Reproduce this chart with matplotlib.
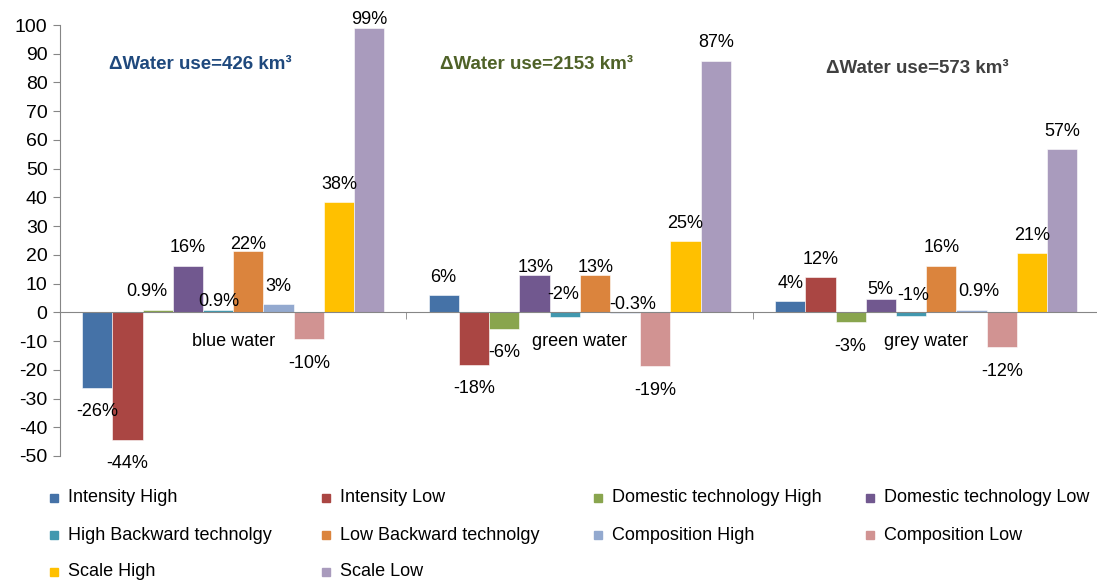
import numpy as np
import matplotlib.pyplot as plt
from matplotlib.patches import Rectangle

plt.rcParams['font.family'] = ['Liberation Sans', 'DejaVu Sans']
plt.rcParams['axes.unicode_minus'] = False

groups = ['blue water', 'green water', 'grey water']
series = ['Intensity High', 'Intensity Low', 'Domestic technology High', 'Domestic technology Low',
          'High Backward technolgy', 'Low Backward technolgy', 'Composition High', 'Composition Low',
          'Scale High', 'Scale Low']
colors = ['#4572A7', '#AA4643', '#89A54E', '#71588F', '#4198AF',
          '#DB843D', '#93A9CF', '#D19392', '#FFC000', '#A99BBD']

# bar heights (%) per water type, same order as series
blue = [-26.3, -44.3, 0.9, 16.2, 0.9, 21.4, 2.9, -9.4, 38.3, 98.9]
green = [5.9, -18.2, -5.8, 13.1, -1.7, 13.1, -0.3, -18.8, 24.8, 87.6]
grey = [3.8, 12.2, -3.4, 4.8, -1.3, 16.2, 0.9, -12.2, 20.6, 56.7]

blue_lbl = ['-26%', '-44%', '0.9%', '16%', '0.9%', '22%', '3%', '-10%', '38%', '99%']
green_lbl = ['6%', '-18%', '-6%', '13%', '-2%', '13%', '-0.3%', '-19%', '25%', '87%']
grey_lbl = ['4%', '12%', '-3%', '5%', '-1%', '16%', '0.9%', '-12%', '21%', '57%']

totals = ['426', '2153', '573']
total_colors = ['#1F497D', '#4F6228', '#404040']

values = [blue, green, grey]
labels = [blue_lbl, green_lbl, grey_lbl]

# hand-moved data labels: (dx, dy) in pixels from the bar end
moved = {(0, 2): (-11, 18), (0, 4): (1, 8), (0, 5): (0, 6), (0, 9): (0, 9),
         (1, 3): (1, 7), (1, 4): (-1, 23), (1, 5): (1, 7), (1, 6): (8, 9),
         (2, 3): (-1, 9), (2, 4): (2, 21), (2, 6): (7, 18)}

W, H = 1097, 583
fig = plt.figure(figsize=(W / 100, H / 100), dpi=100)
ax = fig.add_axes([60 / W, 1 - 456 / H, 1039.5 / W, 431 / H])

x = np.arange(len(groups))
w = 0.0873
for i, name in enumerate(series):
    vals = [v[i] for v in values]
    ax.bar(x + (i - 4.5) * w, vals, w, color=colors[i], label=name,
           edgecolor='white', linewidth=0.4)
    for g in range(len(groups)):
        v = vals[g]
        dx, dy = moved.get((g, i), (0, 18 if v >= 0 else -24))
        ax.annotate(labels[g][i], (x[g] + (i - 4.5) * w, v),
                    xytext=(dx * 0.72, dy * 0.72), textcoords='offset points',
                    ha='center', va='center', fontsize=13)

ax.set_xlim(-0.5, 2.5)
ax.set_ylim(-50, 100)
ax.set_yticks(range(-50, 101, 10))

for s in ['top', 'right']:
    ax.spines[s].set_visible(False)
ax.spines['bottom'].set_position(('data', 0))
ax.spines['bottom'].set_color('#868686')
ax.spines['left'].set_color('#868686')

ax.set_xticks(x)
ax.set_xticklabels(groups)
ax.set_xticks([-0.5, 0.5, 1.5, 2.5], minor=True)
ax.tick_params(axis='x', which='major', length=0, pad=15, labelsize=13)
ax.tick_params(axis='x', which='minor', length=5, direction='out', color='#868686')
ax.tick_params(axis='y', length=5, direction='out', color='#868686', labelsize=14, pad=4)

# Delta water use annotations
pos = [(-0.096, 86.3), (0.874, 86.3), (1.973, 84.9)]
for (px, py), t, c in zip(pos, totals, total_colors):
    ax.text(px, py, f'\u0394Water use={t} km\u00b3', ha='center', va='center',
            fontsize=13.5, fontweight='bold', color=c)

# legend, laid out row by row in 4 columns like the original
for k, name in enumerate(series):
    row, col = divmod(k, 4)
    lx = 50 + col * 272
    ly = 498 + row * 37
    fig.add_artist(Rectangle((lx / W, 1 - (ly + 4) / H), 8 / W, 8 / H,
                             transform=fig.transFigure, color=colors[k]))
    fig.text((lx + 18) / W, 1 - ly / H, name, ha='left', va='center', fontsize=13)

plt.savefig('out.png', dpi=100)
